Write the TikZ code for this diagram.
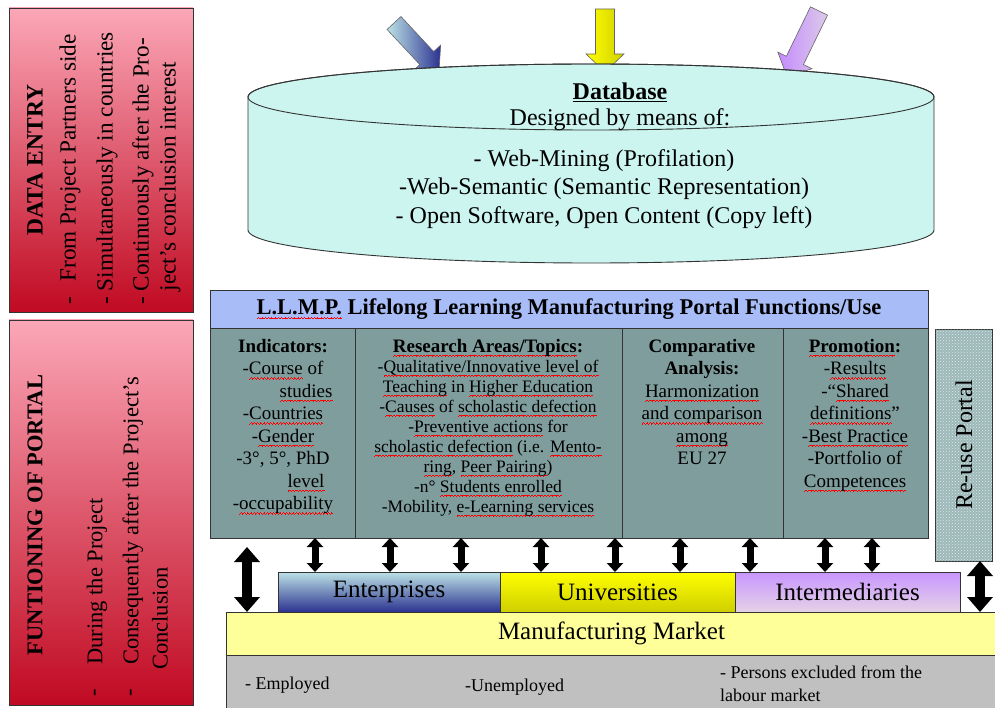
\documentclass[tikz,border=0pt]{standalone}
\usepackage{fontspec}
\setmainfont{Liberation Serif}
\usetikzlibrary{positioning}
\usetikzlibrary{arrows.meta}
\usetikzlibrary{patterns}
\definecolor{sidetop}{HTML}{FBA7B7}
\definecolor{sidebot}{HTML}{C00A22}
\definecolor{dbfill}{HTML}{CCF5F0}
\definecolor{headblue}{HTML}{A8BCF7}
\definecolor{funcgrey}{HTML}{7F9D9D}
\definecolor{reusefill}{HTML}{9CB8B8}
\definecolor{enttop}{HTML}{BCE2E6}
\definecolor{entbot}{HTML}{2B3290}
\definecolor{unitop}{HTML}{FFFF00}
\definecolor{unibot}{HTML}{CFCF00}
\definecolor{inttop}{HTML}{C895FF}
\definecolor{intbot}{HTML}{E5D2E6}
\definecolor{marketyellow}{HTML}{FFFF99}
\definecolor{workgrey}{HTML}{C0C0C0}
\definecolor{purpletail}{HTML}{C48BFF}
\definecolor{purplehead}{HTML}{DCCAE8}
\newcommand{\fsz}[2]{\fontsize{#1}{#2}\selectfont}
\newsavebox\sqbox
\newcommand{\wavebit}{\rule[-4.6pt]{0.8pt}{0.8pt}\rule[-3.9pt]{0.8pt}{0.8pt}\rule[-3.2pt]{0.8pt}{0.8pt}\rule[-3.9pt]{0.8pt}{0.8pt}}
\newcommand{\sq}[1]{\sbox\sqbox{#1}\leavevmode\rlap{\textcolor{red}{\hbox to\wd\sqbox{\xleaders\hbox{\wavebit}\hfil}}}\usebox\sqbox}

\begin{document}
\begin{tikzpicture}[x=1pt, y=-1pt]
	% ------- style -------
	\tikzset{%
		plainbox/.style={draw=black!80, line width=0.9pt, inner sep=0pt, outer sep=0pt},
		sidepanel/.style={plainbox, top color=sidetop, bottom color=sidebot, minimum width=184pt},
		sidetext/.style={rotate=90, anchor=west, inner sep=0pt, font=\fsz{22.5}{27}},
		colbox/.style={plainbox, fill=funcgrey, minimum height=210pt},
		coltext/.style={anchor=north, align=center, inner sep=0pt, font=\fsz{19}{22.5}},
		stake/.style={plainbox, minimum width=#1, minimum height=40pt, font=\fsz{25}{30}},
		worktext/.style={anchor=west, inner sep=0pt, font=\fsz{18}{22.5}},
		dbl/.style={line width=7pt, {Triangle[width=16pt,length=9pt]}-{Triangle[width=16pt,length=9pt]}},
		bigdbl/.style={line width=10pt, {Triangle[width=25pt,length=15pt]}-{Triangle[width=25pt,length=15pt]}},
	}
	\newcommand\blockarrow[5]{% #1: tail, #2: angle, #3: length, #4/#5: colours
		\begin{scope}[shift={#1}, rotate=#2]
			\shade[draw=black!60, line width=0.6pt, left color=#4, right color=#5]
			(0,-9.5) -- (#3-18,-9.5) -- (#3-18,-19) -- (#3,0) -- (#3-18,19) -- (#3-18,9.5) -- (0,9.5) -- cycle;
		\end{scope}}
	\useasboundingbox (0,0) rectangle (995,708);
	
	% ------- side panels -------
	\node[sidepanel, minimum height=304pt] (entrypanel) at (101,160) {};
	\node[sidetext, anchor=center, font=\bfseries\fsz{23.5}{28}] (entrytitle) at (35,160) {DATA ENTRY};
	\node[sidetext, font=\fsz{23.2}{28}] (entry1) at (70,305) {-\hspace{10pt} From Project Partners side};
	\node[sidetext, font=\fsz{23.2}{28}] (entry2) at (107,305) {- Simultaneously in countries};
	\node[sidetext, font=\fsz{23.2}{28}] (entry3) at (143,305) {- Continuously after the Pro-};
	\node[sidetext, font=\fsz{23.2}{28}] (entry4) at (170,305) {\phantom{- }ject's conclusion interest};
	
	\node[sidepanel, minimum height=385pt] (portalpanel) at (101,512.5) {};
	\node[sidetext, anchor=center, font=\bfseries\fsz{22.5}{27}] (portaltitle) at (35,515) {FUNTIONING OF PORTAL};
	\node[sidetext] (portaldash1) at (97,697) {-};
	\node[sidetext] (portal1) at (97,665) {During the Project};
	\node[sidetext] (portaldash2) at (133,697) {-};
	\node[sidetext] (portal2) at (133,665) {Consequently after the Project's};
	\node[sidetext] (portal3) at (160,670) {Conclusion};
	
	% ------- database -------
	\blockarrow{(394,23)}{-47}{66}{enttop}{entbot}
	\blockarrow{(605,9)}{-90}{63}{unitop}{unibot}
	\blockarrow{(819,11)}{-116}{73}{purpletail}{purplehead}
	
	\filldraw[draw=black!80, line width=0.9pt, fill=dbfill]
	(248,97) -- (248,230) arc[start angle=180, end angle=0, x radius=343, y radius=33]
	-- (934,97) arc[start angle=0, end angle=-180, x radius=343, y radius=33] -- cycle;
	\draw[black!80, line width=0.9pt] (591,97) ellipse[x radius=343, y radius=33];
	
	\node[font=\bfseries\fsz{24}{28}, inner sep=0pt] (dbtitle) at (620,92) {\underline{Database}};
	\node[font=\fsz{24}{28}, inner sep=0pt] (dbsub) at (620,120) {Designed by means of:};
	\node[font=\fsz{24}{28.5}, align=center, inner sep=0pt] (dbitems) at (604,189)
	{- Web-Mining (Profilation)\\ -Web-Semantic (Semantic Representation)\\ - Open Software, Open Content (Copy left)};
	
	% ------- portal functions -------
	\node[plainbox, fill=headblue, minimum width=718pt, minimum height=38pt, font=\bfseries\fsz{22.5}{27}] (header) at (569,309)
	{\sq{L.L.M.P.} Lifelong Learning Manufacturing Portal Functions/Use};
	
	\node[colbox, minimum width=145pt, anchor=north west] (ind) at (210,328) {};
	\node[colbox, minimum width=267pt, right=0pt of ind] (res) {};
	\node[colbox, minimum width=161pt, right=0pt of res] (comp) {};
	\node[colbox, minimum width=145pt, right=0pt of comp] (promo) {};
	
	\node[coltext] (indtext) at (283,339)
	{\textbf{Indicators:}\\ -\sq{Course} of\\ \hspace*{46pt}\sq{studies}\\ -\sq{Countries}\\ -\sq{Gender}\\
		-3°, 5°, PhD\\ \hspace*{46pt}\sq{level}\\ -\sq{occupability}};
	\node[coltext, font=\fsz{17.5}{20}] (restext) at (488,339)
	{{\fsz{19}{20}\bfseries\sq{Research Areas/Topics}:}\\ -\sq{Qualitative/Innovative level of}\\
		\sq{Teaching} in \sq{Higher Education}\\ -\sq{Causes} of \sq{scholastic defection}\\
		-\sq{Preventive actions} for\\ \sq{scholastic defection} (i.e. \sq{Mento-}\\
		\sq{ring}, \sq{Peer Pairing})\\ -n° \sq{Students enrolled}\\ -Mobility, \sq{e-Learning services}};
	\node[coltext] (comptext) at (702,339)
	{\textbf{Comparative}\\ \textbf{Analysis:}\\ \sq{Harmonization}\\ \sq{and comparison}\\ \sq{among}\\ EU 27};
	\node[coltext] (promotext) at (855,339)
	{\textbf{\sq{Promotion}:}\\ -\sq{Results}\\ -“\sq{Shared}\\ \sq{definitions}”\\ -\sq{Best Practice}\\
		-Portfolio of\\ \sq{Competences}};
	
	\node[plainbox, fill=reusefill, minimum width=57pt, minimum height=232pt,
	postaction={pattern=crosshatch dots, pattern color=white!70!reusefill}] (reuse) at (964,445) {};
	\node[rotate=90, inner sep=0pt, font=\fsz{24}{28}] (reusetext) at (reuse.center) {Re-use Portal};
	
	% ------- market -------
	\node[stake=222pt, top color=enttop, bottom color=entbot, anchor=north west] (ent) at (278,572) {Enterprises};
	\node[stake=235pt, top color=unitop, bottom color=unibot, right=0pt of ent] (uni) {Universities};
	\node[stake=225pt, top color=inttop, bottom color=intbot, right=0pt of uni] (inter) {Intermediaries};
	
	\node[plainbox, fill=marketyellow, minimum width=771pt, minimum height=43pt, anchor=north west,
	font=\fsz{25}{30}] (market) at (226,612) {Manufacturing Market};
	\node[plainbox, fill=workgrey, minimum width=771pt, minimum height=56pt, anchor=north west] (workers) at (226,655) {};
	\node[worktext] (employed) at (245,685) {- Employed};
	\node[worktext] (unemployed) at (465,687) {-Unemployed};
	\node[worktext, align=left, anchor=north west] (excluded) at (720,666) {- Persons excluded from the\\ labour market};
	
	% ------- links -------
	\coordinate (bigtop) at (247,547);
	\foreach \x in {315,390,461,541,615,680,750,825,872} {
		\draw[dbl] (\x,0 |- ind.south) -- (\x,0 |- ent.north);
	}
	\draw[bigdbl] (bigtop) -- (bigtop |- market.north);
	\draw[bigdbl] (980,0 |- reuse.south) -- (980,0 |- market.north);
\end{tikzpicture}
\end{document}
